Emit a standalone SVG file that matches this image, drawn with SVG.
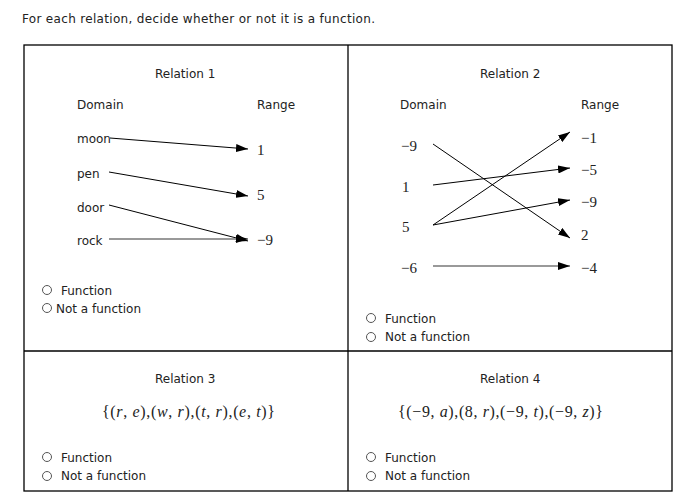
<svg xmlns="http://www.w3.org/2000/svg" width="684" height="496" viewBox="0 0 684 496">
<style>
.s{font-family:"DejaVu Sans",Verdana,sans-serif;font-size:12px;fill:#222}
.n{font-family:"Liberation Serif","Times New Roman",serif;font-size:15px;fill:#222}
.m{font-family:"Liberation Serif","Times New Roman",serif;font-size:16px;fill:#222}
.i{font-style:italic}
.c{fill:none;stroke:#000;stroke-width:1}
.g{stroke:#777;stroke-width:1.3}
.r{fill:#fff;stroke:#555;stroke-width:1}
.f{fill:none;stroke:#000;stroke-width:1.3}
</style>
<defs>
<marker id="ah" markerUnits="userSpaceOnUse" markerWidth="13" markerHeight="8" refX="12" refY="4" orient="auto">
<path d="M0,0 L12,4 L0,8 z" fill="#000"/>
</marker>
</defs>
<rect width="684" height="496" fill="#fff"/>
<text class="s" x="22" y="23" textLength="353" lengthAdjust="spacing">For each relation, decide whether or not it is a function.</text>
<g id="frame">
<rect class="f" x="24" y="45" width="648" height="446"/>
<line class="f" x1="348" y1="45" x2="348" y2="491"/>
<line class="f" x1="24" y1="351" x2="672" y2="351"/>
</g>
<g id="connectors">
<line class="c" x1="110" y1="138" x2="248" y2="149" marker-end="url(#ah)"/>
<line class="c" x1="109" y1="172" x2="248" y2="196" marker-end="url(#ah)"/>
<line class="c" x1="109" y1="205" x2="248" y2="241" marker-end="url(#ah)"/>
<line class="c g" x1="109" y1="239" x2="248" y2="239" marker-end="url(#ah)"/>
<line class="c" x1="433" y1="144" x2="570" y2="238" marker-end="url(#ah)"/>
<line class="c" x1="433" y1="185" x2="570" y2="168" marker-end="url(#ah)"/>
<line class="c" x1="433" y1="225" x2="570" y2="132" marker-end="url(#ah)"/>
<line class="c" x1="433" y1="225" x2="570" y2="200" marker-end="url(#ah)"/>
<line class="c g" x1="433" y1="266" x2="570" y2="266" marker-end="url(#ah)"/>
</g>
<g id="relation1">
<text class="s" x="155" y="78">Relation 1</text>
<text class="s" x="77" y="109">Domain</text>
<text class="s" x="257" y="109">Range</text>
<text class="s" x="77" y="143">moon</text>
<text class="s" x="77" y="178">pen</text>
<text class="s" x="77" y="212">door</text>
<text class="s" x="77" y="245">rock</text>
<text class="n" x="257" y="155">1</text>
<text class="n" x="257" y="200">5</text>
<text class="n" x="257" y="245">−9</text>
<circle class="r" cx="47" cy="290" r="4.5"/>
<text class="s" x="61" y="295">Function</text>
<circle class="r" cx="47" cy="308" r="4.5"/>
<text class="s" x="56" y="313">Not a function</text>
</g>
<g id="relation2">
<text class="s" x="480" y="78">Relation 2</text>
<text class="s" x="400" y="109">Domain</text>
<text class="s" x="581" y="109">Range</text>
<text class="n" x="401" y="151">−9</text>
<text class="n" x="402" y="192">1</text>
<text class="n" x="402" y="232">5</text>
<text class="n" x="401" y="273">−6</text>
<text class="n" x="581" y="143">−1</text>
<text class="n" x="581" y="175">−5</text>
<text class="n" x="581" y="207">−9</text>
<text class="n" x="581" y="240">2</text>
<text class="n" x="581" y="273">−4</text>
<circle class="r" cx="371" cy="318" r="4.5"/>
<text class="s" x="385" y="323">Function</text>
<circle class="r" cx="371" cy="337" r="4.5"/>
<text class="s" x="385" y="341">Not a function</text>
</g>
<g id="relation3">
<text class="s" x="155" y="383">Relation 3</text>
<text class="m" x="102" y="417" textLength="173" lengthAdjust="spacing">{(<tspan class="i">r</tspan>, <tspan class="i">e</tspan>),(<tspan class="i">w</tspan>, <tspan class="i">r</tspan>),(<tspan class="i">t</tspan>, <tspan class="i">r</tspan>),(<tspan class="i">e</tspan>, <tspan class="i">t</tspan>)}</text>
<circle class="r" cx="47" cy="457" r="4.5"/>
<text class="s" x="61" y="462">Function</text>
<circle class="r" cx="47" cy="476" r="4.5"/>
<text class="s" x="61" y="480">Not a function</text>
</g>
<g id="relation4">
<text class="s" x="480" y="383">Relation 4</text>
<text class="m" x="398" y="417" textLength="205" lengthAdjust="spacing">{(−9, <tspan class="i">a</tspan>),(8, <tspan class="i">r</tspan>),(−9, <tspan class="i">t</tspan>),(−9, <tspan class="i">z</tspan>)}</text>
<circle class="r" cx="371" cy="457" r="4.5"/>
<text class="s" x="385" y="462">Function</text>
<circle class="r" cx="371" cy="476" r="4.5"/>
<text class="s" x="385" y="480">Not a function</text>
</g>
</svg>
